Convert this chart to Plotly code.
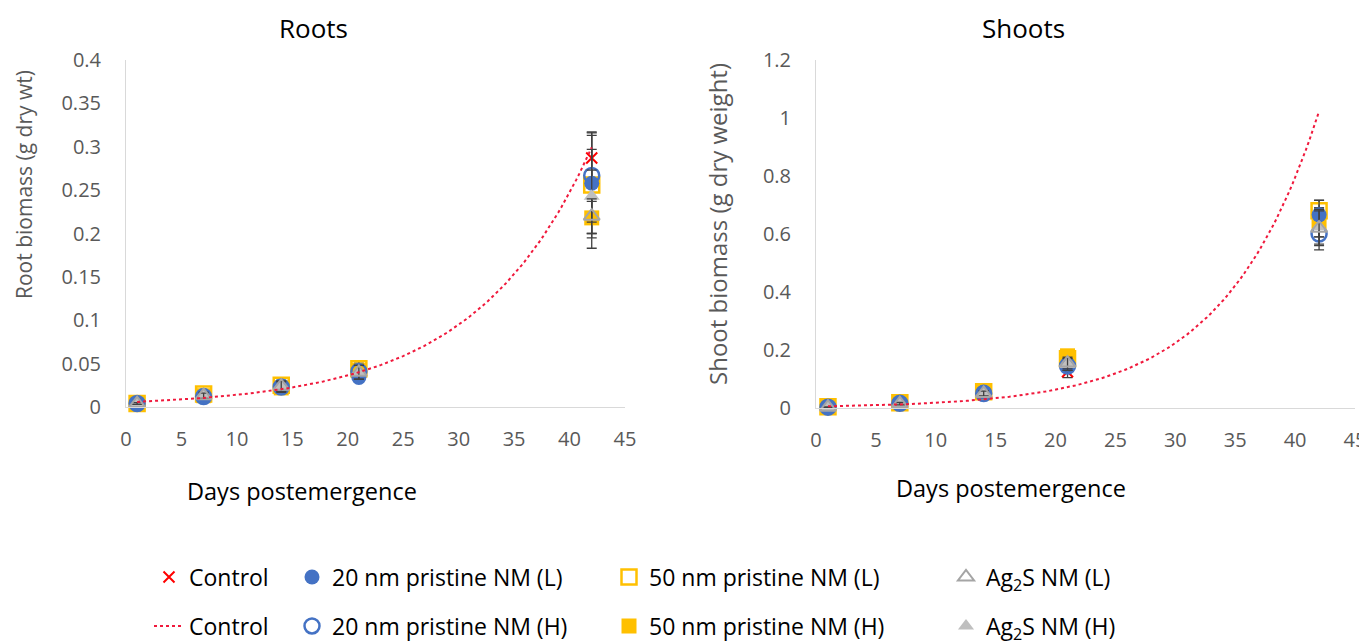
import numpy as np
import plotly.graph_objects as go

# ---------------- data ----------------
days = [1, 7, 14, 21, 42]

# Roots (g dry wt)
root_control = [0.005, 0.012, 0.022, 0.040, 0.287]
root_control_err = [0.001, 0.003, 0.006, 0.008, 0.026]
root_20L = [0.004, 0.013, 0.024, 0.034, 0.258]
root_20L_err = [0.001, 0.003, 0.005, 0.004, 0.058]
root_20H = [0.004, 0.012, 0.023, 0.041, 0.267]
root_20H_err = [0.001, 0.003, 0.006, 0.008, 0.030]
root_50L = [0.004, 0.015, 0.025, 0.044, 0.256]
root_50L_err = [0.001, 0.003, 0.006, 0.008, 0.061]
root_50H = [0.004, 0.013, 0.022, 0.042, 0.218]
root_50H_err = [0.001, 0.003, 0.006, 0.008, 0.035]
root_AgL = [0.004, 0.013, 0.024, 0.040, 0.220]
root_AgL_err = [0.001, 0.003, 0.006, 0.008, 0.020]
root_AgH = [0.004, 0.014, 0.023, 0.040, 0.243]
root_AgH_err = [0.001, 0.003, 0.006, 0.008, 0.030]

# Shoots (g dry weight)
shoot_control = [0.0025, 0.015, 0.050, 0.125, 0.640]
shoot_control_err = [0.001, 0.004, 0.008, 0.02, 0.050]
shoot_20L = [0.004, 0.017, 0.055, 0.150, 0.666]
shoot_20L_err = [0.001, 0.004, 0.008, 0.02, 0.050]
shoot_20H = [0.003, 0.016, 0.050, 0.145, 0.600]
shoot_20H_err = [0.001, 0.004, 0.008, 0.02, 0.055]
shoot_50L = [0.004, 0.018, 0.056, 0.170, 0.680]
shoot_50L_err = [0.001, 0.004, 0.008, 0.02, 0.037]
shoot_50H = [0.005, 0.020, 0.060, 0.180, 0.640]
shoot_50H_err = [0.001, 0.004, 0.008, 0.02, 0.050]
shoot_AgL = [0.003, 0.015, 0.050, 0.155, 0.620]
shoot_AgL_err = [0.001, 0.004, 0.008, 0.02, 0.060]
shoot_AgH = [0.003, 0.015, 0.052, 0.150, 0.625]
shoot_AgH_err = [0.001, 0.004, 0.008, 0.02, 0.060]

x_ticks = [0, 5, 10, 15, 20, 25, 30, 35, 40, 45]
root_ticks = [0, 0.05, 0.1, 0.15, 0.2, 0.25, 0.3, 0.35, 0.4]
root_tick_text = ["0", "0.05", "0.1", "0.15", "0.2", "0.25", "0.3", "0.35", "0.4"]
shoot_ticks = [0, 0.2, 0.4, 0.6, 0.8, 1.0, 1.2]
shoot_tick_text = ["0", "0.2", "0.4", "0.6", "0.8", "1", "1.2"]

# ---------------- styles ----------------
BLUE = "#4472C4"
YELLOW = "#FFC000"
GREY = "#A5A5A5"
RED = "#FF0000"
ERR = "#404040"
FONT = "Open Sans"

series = [
    # name, root vals, root err, shoot vals, shoot err, marker, legend
    ("Control", root_control, root_control_err, shoot_control, shoot_control_err,
     dict(symbol="x-thin", size=11, line=dict(color=RED, width=2), color=RED), "legend"),
    ("50 nm pristine NM (L)", root_50L, root_50L_err, shoot_50L, shoot_50L_err,
     dict(symbol="square-open", size=15, color=YELLOW, line=dict(color=YELLOW, width=2.5)), "legend5"),
    ("50 nm pristine NM (H)", root_50H, root_50H_err, shoot_50H, shoot_50H_err,
     dict(symbol="square", size=15, color=YELLOW, line=dict(width=0)), "legend6"),
    ("20 nm pristine NM (H)", root_20H, root_20H_err, shoot_20H, shoot_20H_err,
     dict(symbol="circle-open", size=15, color=BLUE, line=dict(color=BLUE, width=2.5)), "legend4"),
    ("20 nm pristine NM (L)", root_20L, root_20L_err, shoot_20L, shoot_20L_err,
     dict(symbol="circle", size=15, color=BLUE, line=dict(width=0)), "legend3"),
    ("Ag<sub>2</sub>S NM (H)", root_AgH, root_AgH_err, shoot_AgH, shoot_AgH_err,
     dict(symbol="triangle-up", size=14, color="#BFBFBF", line=dict(width=0)), "legend8"),
    ("Ag<sub>2</sub>S NM (L)", root_AgL, root_AgL_err, shoot_AgL, shoot_AgL_err,
     dict(symbol="triangle-up-open", size=14, color=GREY, line=dict(color=GREY, width=2)), "legend7"),
]

fig = go.Figure()

for name, rv, re_, sv, se, marker, lg in series:
    for i, (vals, errs) in enumerate([(rv, re_), (sv, se)]):
        fig.add_trace(go.Scatter(
            x=days, y=vals, mode="markers", name=name,
            marker=marker,
            error_y=dict(type="data", array=errs, visible=True, color=ERR, thickness=1.3, width=5),
            xaxis="x" if i == 0 else "x2", yaxis="y" if i == 0 else "y2",
            showlegend=(i == 0), legend=lg, cliponaxis=False,
        ))

# Exponential trendlines of the control series (least squares on ln y, as in the spreadsheet)
x_fit = np.linspace(min(days), max(days), 150)
for i, ctrl in enumerate([root_control, shoot_control]):
    b, ln_a = np.polyfit(days, np.log(ctrl), 1)
    y_fit = np.exp(ln_a) * np.exp(b * x_fit)
    fig.add_trace(go.Scatter(
        x=x_fit, y=y_fit, mode="lines", name="Control",
        line=dict(color="#F0193C", width=2, dash="dot"),
        xaxis="x" if i == 0 else "x2", yaxis="y" if i == 0 else "y2",
        showlegend=(i == 0), legend="legend2", cliponaxis=False,
    ))

W, H = 1367, 642
OFF = 8  # page body margin in the browser


def px_x(p):
    return (p - OFF) / W


def px_y(p):
    return (H - (p - OFF)) / H


axis_common = dict(showline=True, linecolor="#D9D9D9", linewidth=1, showgrid=False,
                   zeroline=False, ticks="", automargin=False,
                   tickfont=dict(family=FONT, size=20, color="#595959"))

fig.update_layout(
    width=W, height=H, margin=dict(l=0, r=0, t=0, b=0, autoexpand=False),
    plot_bgcolor="white", paper_bgcolor="white",
    font=dict(family=FONT, color="#000000"),
    xaxis=dict(domain=[px_x(126), px_x(625)], range=[0, 45], tickvals=x_ticks,
               ticklabelstandoff=14, anchor="y", **axis_common),
    yaxis=dict(domain=[px_y(407), px_y(60)], range=[0, 0.4], tickvals=root_ticks,
               ticktext=root_tick_text, ticklabelstandoff=20, anchor="x", **axis_common),
    xaxis2=dict(domain=[px_x(816), px_x(1355)], range=[0, 45], tickvals=x_ticks,
                ticklabelstandoff=14, anchor="y2", **axis_common),
    yaxis2=dict(domain=[px_y(408), px_y(60)], range=[0, 1.2], tickvals=shoot_ticks,
                ticktext=shoot_tick_text, ticklabelstandoff=20, anchor="x2", **axis_common),
)

# legends: one entry each, laid out in two rows x four columns
leg_font = dict(family=FONT, size=23, color="#000000")
text_starts = [190, 333, 650, 987]
rows = [577, 626]
pos = {
    "legend": (0, 0), "legend2": (0, 1),
    "legend3": (1, 0), "legend4": (1, 1),
    "legend5": (2, 0), "legend6": (2, 1),
    "legend7": (3, 0), "legend8": (3, 1),
}
leg_layout = {}
for lg, (c, r) in pos.items():
    leg_layout[lg] = dict(x=px_x(text_starts[c] - 41), y=px_y(rows[r]), xanchor="left",
                          yanchor="middle", bgcolor="rgba(0,0,0,0)", font=leg_font,
                          orientation="v")
fig.update_layout(**leg_layout)

annotations = [
    dict(text="Roots", x=px_x(313), y=px_y(28), font=dict(size=26, color="#000000")),
    dict(text="Shoots", x=px_x(1023), y=px_y(28), font=dict(size=26, color="#000000")),
    dict(text="Days postemergence", x=px_x(302), y=px_y(491), font=dict(size=23.5, color="#000000")),
    dict(text="Days postemergence", x=px_x(1011), y=px_y(488), font=dict(size=23.5, color="#000000")),
    dict(text="Root biomass (g dry wt)", x=px_x(24), y=px_y(185), textangle=-90,
         font=dict(size=21, color="#595959")),
    dict(text="Shoot biomass (g dry weight)", x=px_x(717), y=px_y(224), textangle=-90,
         font=dict(size=24, color="#595959")),
]
for a in annotations:
    a.update(xref="paper", yref="paper", showarrow=False, xanchor="center", yanchor="middle")
    a["font"]["family"] = FONT
fig.update_layout(annotations=annotations)

fig.write_html("out.html")
